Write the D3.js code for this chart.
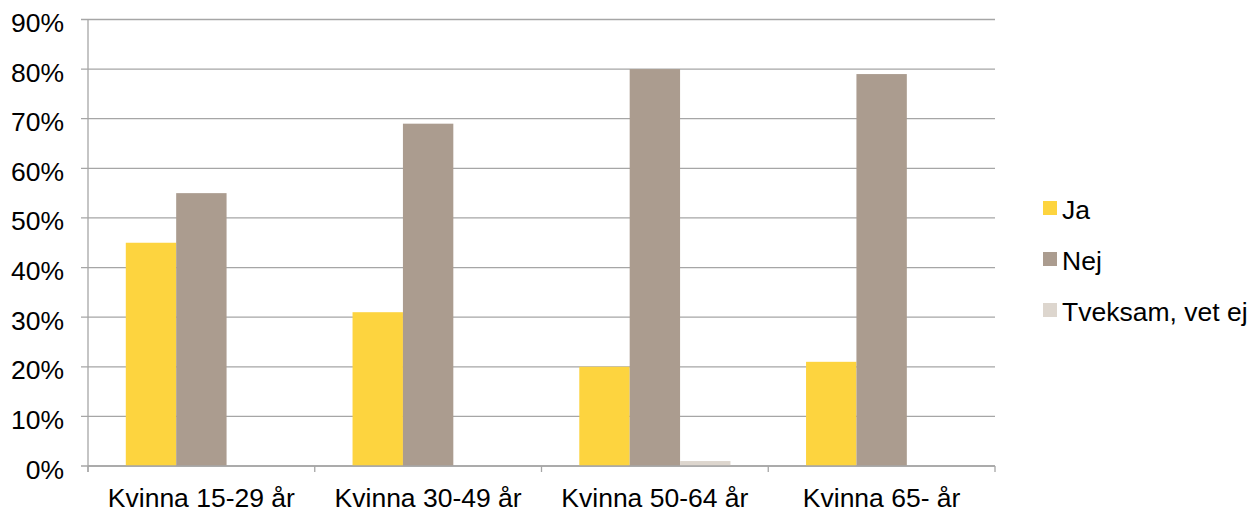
<!DOCTYPE html>
<html><head><meta charset="utf-8">
<script src="https://cdn.jsdelivr.net/npm/d3@7"></script>
<style>body{margin:0;background:#fff}svg{display:block}text{font-family:"Liberation Sans",Arial,sans-serif;fill:#000}</style>
</head><body><svg id="c" width="1253" height="512"></svg>
<script>
const categories = ["Kvinna 15-29 år","Kvinna 30-49 år","Kvinna 50-64 år","Kvinna 65- år"];
const seriesNames = ["Ja","Nej","Tveksam, vet ej"];
const ja = [45,31,20,21];
const nej = [55,69,80,79];
const tveksam = [0,0,1,0];
const yTicks = [0,10,20,30,40,50,60,70,80,90];
const colors = ["#FDD43F","#AB9C8F","#DDD6CE"];
const values = [ja, nej, tveksam];
const FS = "26.5px";

const svg = d3.select("#c");
const L = 88, R = 995, T = 19.5, B = 466;
const x = d3.scaleBand().domain(categories).range([L,R]).paddingInner(0).paddingOuter(0);
const gap = 1.5;
const bw = x.bandwidth()/(3+gap);
const y = d3.scaleLinear().domain([0,90]).range([B,T]);

svg.append("g").selectAll("line").data(yTicks).join("line")
  .attr("x1",L-7).attr("x2",R).attr("y1",d=>y(d)).attr("y2",d=>y(d))
  .attr("stroke","#A6A6A6").attr("stroke-width",1.3);
svg.append("g").selectAll("text").data(yTicks).join("text")
  .attr("x",64).attr("y",d=>y(d)+12.5).attr("text-anchor","end")
  .style("font-size",FS).text(d=>d+"%");

categories.forEach((c,i)=>{
  values.forEach((arr,s)=>{
    const x0 = x(c) + bw*gap/2 + s*bw;
    svg.append("rect").attr("x",x0).attr("width",bw)
      .attr("y",y(arr[i])).attr("height",B-y(arr[i]))
      .attr("fill",colors[s]);
  });
});

svg.append("line").attr("x1",L).attr("x2",L).attr("y1",T).attr("y2",B+6).attr("stroke","#A6A6A6").attr("stroke-width",1.3);
svg.append("line").attr("x1",L).attr("x2",R).attr("y1",B).attr("y2",B).attr("stroke","#A6A6A6").attr("stroke-width",1.3);
const bounds = categories.map(c=>x(c)).concat([R]);
svg.append("g").selectAll("line").data(bounds).join("line")
  .attr("x1",d=>d).attr("x2",d=>d).attr("y1",B).attr("y2",B+6)
  .attr("stroke","#A6A6A6").attr("stroke-width",1.3);
svg.append("g").selectAll("text").data(categories).join("text")
  .attr("x",d=>x(d)+x.bandwidth()/2).attr("y",507).attr("text-anchor","middle")
  .style("font-size",FS).text(d=>d);

const lg = svg.append("g");
seriesNames.forEach((n,i)=>{
  const yy = 201 + i*51;
  lg.append("rect").attr("x",1043).attr("y",yy).attr("width",14).attr("height",14).attr("fill",colors[i]);
  lg.append("text").attr("x",1062).attr("y",yy+18).style("font-size",FS).text(n);
});
</script></body></html>
